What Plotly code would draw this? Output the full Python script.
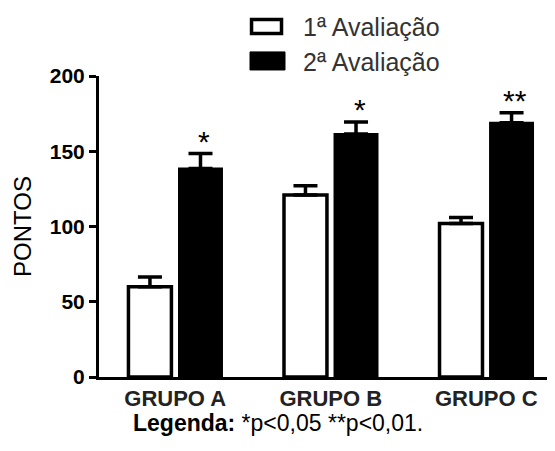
import plotly.graph_objects as go

groups = ["GRUPO A", "GRUPO B", "GRUPO C"]
aval1 = [60, 121, 102]
aval1_err = [6.5, 6, 4]
aval2 = [138.5, 161.5, 169]
aval2_err = [10, 8, 6.5]
signif = ["*", "*", "**"]
yticks = [0, 50, 100, 150, 200]
series_names = ["1ª Avaliação", "2ª Avaliação"]

FONT = "Liberation Sans, Arial, sans-serif"

fig = go.Figure()
fig.add_trace(go.Bar(
    x=groups, y=aval1, name=series_names[0], showlegend=False,
    marker=dict(color="white", line=dict(color="black", width=3.5)),
    error_y=dict(type="data", symmetric=False, array=aval1_err,
                 arrayminus=[0] * len(aval1_err), color="black",
                 thickness=3.5, width=12),
))
fig.add_trace(go.Bar(
    x=groups, y=aval2, name=series_names[1], showlegend=False,
    marker=dict(color="black", line=dict(color="black", width=2)),
    error_y=dict(type="data", symmetric=False, array=aval2_err,
                 arrayminus=[0] * len(aval2_err), color="black",
                 thickness=3.5, width=12),
))

for g, v, e, s in zip(groups, aval2, aval2_err, signif):
    fig.add_annotation(x=g, y=v + e, text=s, showarrow=False,
                       xshift=29, yshift=12,
                       font=dict(family=FONT, size=30, color="black"))

# manual legend (large boxes as in the reference)
fig.add_shape(type="rect", xref="paper", yref="paper",
              x0=0.336, x1=0.402, y0=1.141, y1=1.188,
              line=dict(color="black", width=3.5), fillcolor="white")
fig.add_shape(type="rect", xref="paper", yref="paper",
              x0=0.3326, x1=0.4097, y0=1.020, y1=1.080,
              line=dict(color="black", width=1), fillcolor="black")
for name, yy in zip(series_names, [1.163, 1.047]):
    fig.add_annotation(x=0.445, y=yy, xref="paper", yref="paper",
                       text=name, showarrow=False, xanchor="left",
                       yanchor="middle",
                       font=dict(family=FONT, size=25, color="#333"))

fig.add_annotation(x=0.395, y=-0.203, xref="paper", yref="paper",
                   text="<b>Legenda:</b> *p<0,05 **p<0,01.", showarrow=False,
                   font=dict(family=FONT, size=23, color="black"))

fig.update_layout(
    width=547, height=443,
    margin=dict(l=91, r=2, t=68, b=74, autoexpand=False),
    paper_bgcolor="white", plot_bgcolor="white",
    barmode="group", bargap=0.35, bargroupgap=0.15,
    font=dict(family=FONT, color="black"),
    showlegend=False,
)
fig.update_xaxes(
    range=[-0.490, 2.429], showline=True, linecolor="black", linewidth=3,
    ticks="", showgrid=False, zeroline=False, automargin=False,
    tickfont=dict(family=FONT, size=22, color="#222", weight="bold"),
)
fig.update_yaxes(
    range=[0, 200], tickvals=yticks, showline=True, linecolor="black",
    linewidth=3, ticks="outside", ticklen=7, tickwidth=3,
    tickcolor="black", showgrid=False, zeroline=False, automargin=False,
    tickfont=dict(family=FONT, size=21, color="black", weight="bold"),
    title=dict(text="PONTOS", font=dict(family=FONT, size=24, color="black"),
               standoff=12),
)

fig.write_html("out.html")
